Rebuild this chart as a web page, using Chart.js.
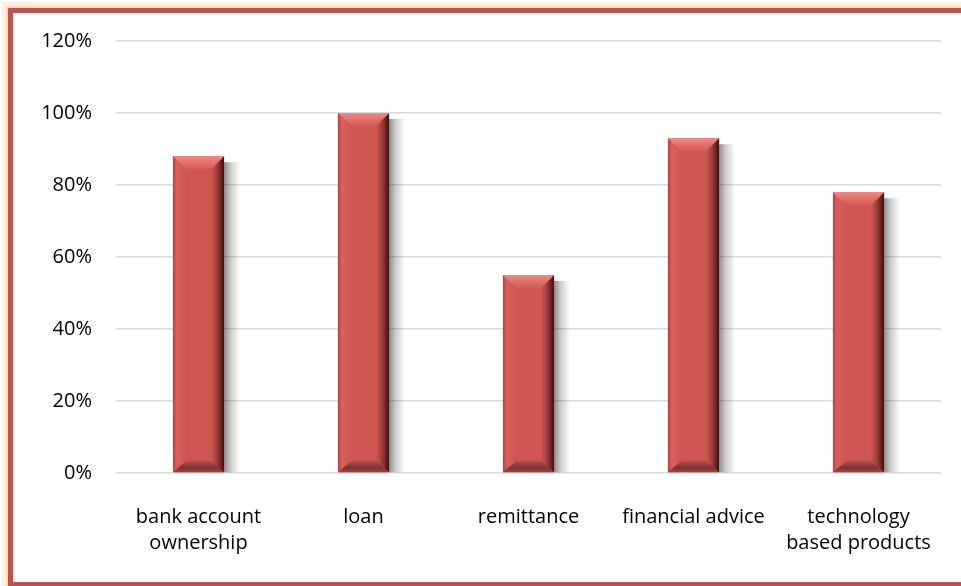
<!DOCTYPE html>
<html>
<head>
<meta charset="utf-8">
<script src="https://cdn.jsdelivr.net/npm/chart.js@4.4.1/dist/chart.umd.min.js"></script>
<style>
  html, body { margin: 0; padding: 0; background: #fff; }
  #wrap { width: 961px; height: 586px; }
</style>
</head>
<body>
<div id="wrap"><canvas id="chart" width="961" height="586"></canvas></div>
<script>
'use strict'

// categories and shares (percent)
const categories = [
    ['bank account', 'ownership'],
    'loan',
    'remittance',
    'financial advice',
    ['technology', 'based products']
]
const shares = [88, 100, 55, 93, 78]
const tickValues = [0, 20, 40, 60, 80, 100, 120]

const barRed = '#CD5652'
const labelFont = { family: 'Open Sans', size: 20, lineHeight: 1.3 }

// white page + red frame with soft orange glow (right edge runs off the page)
const framePlugin = {
    id: 'frame',
    beforeDraw(chart){
        const ctx = chart.ctx
        ctx.save()
        ctx.fillStyle = '#fff'
        ctx.fillRect(0, 0, chart.width, chart.height)
        ctx.restore()
    },
    afterDraw(chart){
        const ctx = chart.ctx
        ctx.save()
        ctx.strokeStyle = 'rgba(252,215,165,0.35)'
        ctx.lineWidth = 8
        ctx.strokeRect(6, 6, chart.width + 20, chart.height)
        ctx.strokeStyle = 'rgba(250,200,140,0.5)'
        ctx.lineWidth = 3
        ctx.strokeRect(7.5, 7.5, chart.width + 20, chart.height)
        ctx.strokeStyle = '#C0504D'
        ctx.lineWidth = 5
        ctx.strokeRect(10.5, 10.5, chart.width + 20, 574)
        ctx.restore()
    }
}

// bevelled bars with a drop shadow on the right
const bevelPlugin = {
    id: 'bevel',
    beforeDatasetsDraw(chart){
        const ctx = chart.ctx
        const meta = chart.getDatasetMeta(0)
        ctx.save()
        meta.data.forEach(bar => {
            const p = bar.getProps(['x', 'y', 'base', 'width'], true)
            const right = p.x + p.width / 2
            const g = ctx.createLinearGradient(right, 0, right + 16, 0)
            g.addColorStop(0, 'rgba(0,0,0,0.45)')
            g.addColorStop(0.4, 'rgba(0,0,0,0.2)')
            g.addColorStop(1, 'rgba(0,0,0,0)')
            ctx.fillStyle = g
            ctx.fillRect(right, p.y + 6, 16, p.base - p.y - 6)
        })
        ctx.restore()
    },
    afterDatasetsDraw(chart){
        const ctx = chart.ctx
        const meta = chart.getDatasetMeta(0)
        ctx.save()
        meta.data.forEach(bar => {
            const p = bar.getProps(['x', 'y', 'base', 'width'], true)
            const l = p.x - p.width / 2, r = p.x + p.width / 2
            const t = p.y, b = p.base
            const d = 13, db = 11

            // left face
            let g = ctx.createLinearGradient(l, 0, l + d, 0)
            g.addColorStop(0, '#B4423F')
            g.addColorStop(0.3, '#D9615D')
            g.addColorStop(1, barRed)
            ctx.fillStyle = g
            ctx.beginPath()
            ctx.moveTo(l, t); ctx.lineTo(l + d, t + d); ctx.lineTo(l + d, b - db); ctx.lineTo(l, b)
            ctx.closePath(); ctx.fill()

            // right face
            g = ctx.createLinearGradient(r - d, 0, r, 0)
            g.addColorStop(0, barRed)
            g.addColorStop(0.45, '#A23D3A')
            g.addColorStop(1, '#3A1210')
            ctx.fillStyle = g
            ctx.beginPath()
            ctx.moveTo(r, t); ctx.lineTo(r - d, t + d); ctx.lineTo(r - d, b - db); ctx.lineTo(r, b)
            ctx.closePath(); ctx.fill()

            // top face
            g = ctx.createLinearGradient(0, t, 0, t + d)
            g.addColorStop(0, '#F08A85')
            g.addColorStop(0.5, '#E2706B')
            g.addColorStop(1, '#D45C58')
            ctx.fillStyle = g
            ctx.beginPath()
            ctx.moveTo(l, t); ctx.lineTo(r, t); ctx.lineTo(r - d, t + d); ctx.lineTo(l + d, t + d)
            ctx.closePath(); ctx.fill()

            // bottom face
            g = ctx.createLinearGradient(0, b - db, 0, b)
            g.addColorStop(0, '#A64D4A')
            g.addColorStop(0.6, '#7E3230')
            g.addColorStop(1, '#9A4643')
            ctx.fillStyle = g
            ctx.beginPath()
            ctx.moveTo(l, b); ctx.lineTo(r, b); ctx.lineTo(r - d, b - db); ctx.lineTo(l + d, b - db)
            ctx.closePath(); ctx.fill()
        })
        ctx.restore()
    }
}

const chart = new Chart(document.getElementById('chart'), {
    type: 'bar',
    data: {
        labels: categories,
        datasets: [{
            data: shares,
            backgroundColor: barRed,
            borderWidth: 0,
            barPercentage: 0.62,
            categoryPercentage: 0.5
        }]
    },
    options: {
        responsive: false,
        animation: false,
        devicePixelRatio: 1,
        layout: { padding: { left: 13, right: 20, top: 41, bottom: 8 } },
        plugins: {
            legend: { display: false },
            tooltip: { enabled: false }
        },
        scales: {
            x: {
                grid: { display: false, drawTicks: false },
                border: { display: false },
                ticks: {
                    color: '#000',
                    padding: 31,
                    maxRotation: 0,
                    autoSkip: false,
                    font: labelFont
                },
                afterFit(scale){
                    scale.height = 105
                    scale.paddingLeft = 0
                    scale.paddingRight = 0
                }
            },
            y: {
                min: 0,
                max: 120,
                afterBuildTicks(scale){
                    scale.ticks = tickValues.map(v => ({ value: v }))
                },
                grid: { color: '#D9D9D9', lineWidth: 1.5, drawTicks: false },
                border: { display: false },
                ticks: {
                    color: '#000',
                    padding: 24,
                    font: labelFont,
                    callback: v => v + '%'
                },
                afterFit(scale){ scale.width = 103 }
            }
        }
    },
    plugins: [framePlugin, bevelPlugin]
})
</script>
</body>
</html>
